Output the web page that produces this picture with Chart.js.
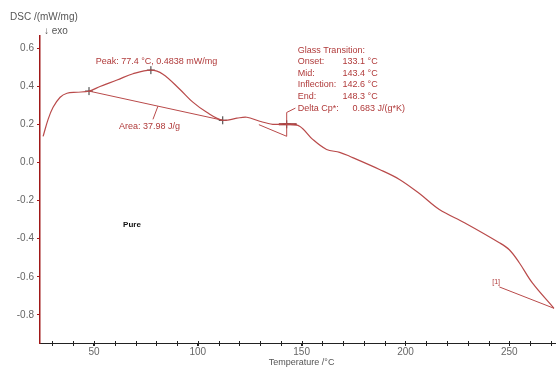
<!doctype html>
<html lang="en">
<head>
<meta charset="UTF-8">
<title>DSC curve - Pure</title>
<script src="https://cdn.jsdelivr.net/npm/chart.js@4/dist/chart.umd.min.js"></script>
<style>
  html, body { margin: 0; padding: 0; background: #fff; }
  #wrap { width: 560px; height: 369px; position: relative; }
</style>
</head>
<body>
<div id="wrap"><canvas id="dsc"></canvas></div>
<script>
// temperature (°C) and DSC signal (mW/mg)
var temps = [25.5, 27.9, 30.3, 33.7, 37.0, 41.8, 47.6, 52.9, 61.1, 68.8, 77.4, 83.2, 91.3, 97.6,
             104.3, 112.0, 118.8, 123.6, 129.8, 136.1, 142.8, 149.0, 155.3, 162.0, 168.3, 173.1,
             187.5, 197.1, 206.7, 216.3, 228.4, 245.2, 250.0, 254.8, 261.1, 271.5];
var dsc   = [0.137, 0.226, 0.289, 0.342, 0.363, 0.368, 0.374, 0.398, 0.432, 0.465, 0.484, 0.463, 0.384, 0.316,
             0.263, 0.221, 0.232, 0.237, 0.216, 0.200, 0.200, 0.190, 0.121, 0.068, 0.053, 0.032,
             -0.037, -0.089, -0.163, -0.247, -0.316, -0.421, -0.458, -0.526, -0.632, -0.765];

// evaluation marks
var markT = [47.6, 77.4, 112.0, 142.8];
var markV = [0.374, 0.484, 0.221, 0.200];

// area baseline and glass transition construction
var baseT = [47.6, 112.0];
var baseV = [0.374, 0.221];
var tangT = [129.4, 142.8, 142.8];
var tangV = [0.198, 0.137, 0.262];
var stepT = [139.0, 147.6];
var stepV = [0.200, 0.200];
var refT  = [245.2, 271.5];
var refV  = [-0.653, -0.765];

var xTicks = [50, 100, 150, 200, 250];
var yTicks = [-0.8, -0.6, -0.4, -0.2, 0.0, 0.2, 0.4, 0.6];

var red = '#b94a4a';
var txt = '#b03a3a';

function pts(xs, ys) {
  return xs.map(function (x, i) { return { x: x, y: ys[i] }; });
}

var annot = {
  id: 'annot',
  afterDraw: function (chart) {
    var c = chart.ctx, xs = chart.scales.x, ys = chart.scales.y;
    function px(t) { return xs.getPixelForValue(t); }
    function py(v) { return ys.getPixelForValue(v); }
    c.save();
    c.textBaseline = 'middle';
    // axis titles
    c.fillStyle = '#555';
    c.font = '10px "Liberation Sans", Arial, sans-serif';
    c.textAlign = 'left';
    c.fillText('DSC /(mW/mg)', 10, 17);
    c.fillText('\u2193 exo', 44, 31);
    c.font = '9px "Liberation Sans", Arial, sans-serif';
    c.textAlign = 'center';
    c.fillText('Temperature /\u00b0C', px(150), 363);

    // minor x ticks every 10
    c.strokeStyle = '#222';
    c.lineWidth = 1;
    var yb = chart.chartArea.bottom;
    for (var t = 30; t <= 270; t += 10) {
      var x = Math.round(px(t)) + 0.5;
      c.beginPath(); c.moveTo(x, yb - 2); c.lineTo(x, yb + 3); c.stroke();
    }

    // leader lines
    c.strokeStyle = red;
    c.beginPath();
    c.moveTo(px(80.8), py(0.295)); c.lineTo(px(78.4), py(0.226));   // area label
    c.moveTo(px(142.8), py(0.262)); c.lineTo(px(147.0), py(0.285)); // delta cp
    c.stroke();

    // labels
    c.fillStyle = txt;
    c.font = '9px "Liberation Sans", Arial, sans-serif';
    c.textAlign = 'left';
    c.fillText('Peak: 77.4 \u00b0C, 0.4838 mW/mg', px(50.8), py(0.531));
    c.fillText('Area: 37.98 J/g', px(62.0), py(0.189));
    var gx = px(148.1), gx2 = px(169.7), gy = py(0.589), lh = 11.6;
    c.fillText('Glass Transition:', gx, gy);
    c.fillText('Onset:', gx, gy + lh);     c.fillText('133.1 \u00b0C', gx2, gy + lh);
    c.fillText('Mid:', gx, gy + lh * 2);   c.fillText('143.4 \u00b0C', gx2, gy + lh * 2);
    c.fillText('Inflection:', gx, gy + lh * 3); c.fillText('142.6 \u00b0C', gx2, gy + lh * 3);
    c.fillText('End:', gx, gy + lh * 4);   c.fillText('148.3 \u00b0C', gx2, gy + lh * 4);
    c.fillText('Delta Cp*:', gx, gy + lh * 5);
    c.fillText('0.683 J/(g*K)', px(174.5), gy + lh * 5);
    c.font = '7px "Liberation Sans", Arial, sans-serif';
    c.fillText('[1]', px(241.8), py(-0.626));

    c.fillStyle = '#111';
    c.font = 'bold 8px "Liberation Sans Narrow", "Liberation Sans", Arial, sans-serif';
    c.fillText('Pure', px(64.0), py(-0.325));
    c.restore();
  }
};

new Chart(document.getElementById('dsc'), {
  type: 'scatter',
  data: {
    datasets: [
      { data: pts(temps, dsc), showLine: true, borderColor: red, borderWidth: 1.2,
        pointRadius: 0, tension: 0.35 },
      { data: pts(baseT, baseV), showLine: true, borderColor: red, borderWidth: 1, pointRadius: 0 },
      { data: pts(tangT, tangV), showLine: true, borderColor: red, borderWidth: 1, pointRadius: 0 },
      { data: pts(stepT, stepV), showLine: true, borderColor: '#8a1a1a', borderWidth: 2, pointRadius: 0 },
      { data: pts(refT, refV), showLine: true, borderColor: red, borderWidth: 1, pointRadius: 0 },
      { data: pts(markT, markV), showLine: false, pointStyle: 'cross', pointRadius: 4,
        borderColor: '#333', borderWidth: 1 }
    ]
  },
  options: {
    responsive: true,
    maintainAspectRatio: false,
    animation: false,
    layout: { padding: { top: 36, right: 4, left: 0, bottom: 0 } },
    plugins: { legend: { display: false }, tooltip: { enabled: false } },
    scales: {
      x: {
        type: 'linear', min: 24, max: 272,
        afterBuildTicks: function (s) { s.ticks = xTicks.map(function (v) { return { value: v }; }); },
        afterFit: function (s) { s.height = 26; },
        grid: { drawOnChartArea: false, drawTicks: true, tickLength: 3, color: '#222' },
        border: { color: '#222', width: 1 },
        ticks: { color: '#666', padding: 0, font: { size: 10, family: '"Liberation Sans", Arial, sans-serif' } }
      },
      y: {
        type: 'linear', min: -0.947, max: 0.663,
        afterBuildTicks: function (s) { s.ticks = yTicks.map(function (v) { return { value: v }; }); },
        afterFit: function (s) { s.width = 40; },
        grid: { drawOnChartArea: false, drawTicks: true, tickLength: 3, color: '#a01818' },
        border: { color: '#a01818', width: 1.5 },
        ticks: { color: '#666', padding: 3, font: { size: 10, family: '"Liberation Sans", Arial, sans-serif' },
          callback: function (v) { return v.toFixed(1); } }
      }
    }
  },
  plugins: [annot]
});
</script>
</body>
</html>
